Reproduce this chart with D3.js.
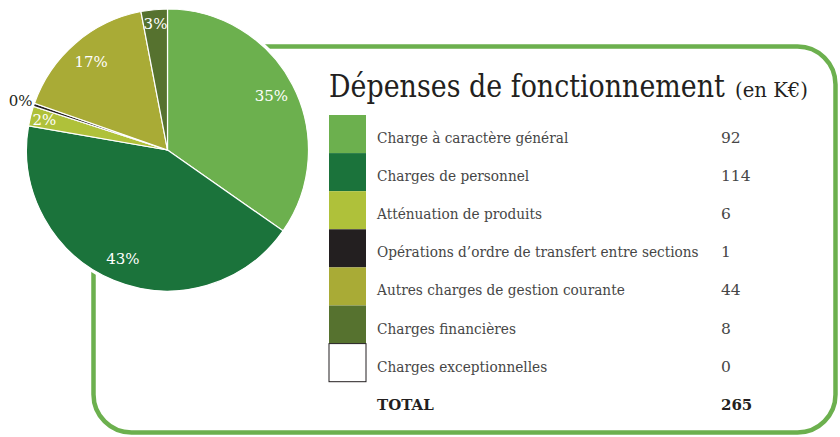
<!DOCTYPE html>
<html>
<head>
<meta charset="utf-8">
<script src="https://cdn.jsdelivr.net/npm/d3@7"></script>
<style>
  body { margin: 0; background: #fff; }
  text { font-family: "DejaVu Serif", serif; }
</style>
</head>
<body>
<div id="chart"></div>
<script>
// data
const categories = [
    "Charge à caractère général",
    "Charges de personnel",
    "Atténuation de produits",
    "Opérations d’ordre de transfert entre sections",
    "Autres charges de gestion courante",
    "Charges financières",
    "Charges exceptionnelles"
];
const values = [92, 114, 6, 1, 44, 8, 0];
const colors = ["#6cb04e", "#1b733b", "#afc13a", "#231f20", "#a9ab36", "#56722f", "#ffffff"];
const titleMain = "Dépenses de fonctionnement";
const titleUnit = "(en K€)";
const totalLabel = "TOTAL";

const W = 840, H = 437;
const svg = d3.select("#chart").append("svg")
    .attr("width", W)
    .attr("height", H);

const green = "#6cb04e";
const total = d3.sum(values);

// squeeze a text horizontally so it fits a given width (DejaVu is wider than the original font)
function fitWidth(sel, x, y, width) {
    const len = sel.node().getComputedTextLength();
    sel.attr("x", 0).attr("y", 0)
        .attr("transform", `translate(${x},${y}) scale(${Math.min(1, width / len)},1)`);
}

// rounded frame behind the pie
svg.append("rect")
    .attr("x", 93.5).attr("y", 46.5)
    .attr("width", 742).attr("height", 386)
    .attr("rx", 38).attr("ry", 38)
    .attr("fill", "none")
    .attr("stroke", green)
    .attr("stroke-width", 4.5);

// pie
const cx = 167.5, cy = 150, R = 141;
const g = svg.append("g").attr("transform", `translate(${cx},${cy})`);

g.append("circle").attr("r", R + 3).attr("fill", "#fff");

const pie = d3.pie().sort(null).value(d => d.value);
const arcs = pie(categories.map((c, i) => ({ name: c, value: values[i], color: colors[i] })));
const arc = d3.arc().innerRadius(0).outerRadius(R);

g.selectAll("path")
    .data(arcs.filter(d => d.data.value > 0))
    .join("path")
    .attr("d", arc)
    .attr("fill", d => d.data.color)
    .attr("stroke", "#fff")
    .attr("stroke-width", 1.2);

// percentage labels
g.selectAll("text.pct")
    .data(arcs.filter(d => d.data.value > 0))
    .join("text")
    .attr("class", "pct")
    .each(function (d) {
        const p = d.data.value / total;
        let r = p > 0.05 ? R * 0.83 : R * 0.9;
        if (p < 0.01) r = R * 1.1;
        const a = (d.startAngle + d.endAngle) / 2;
        d3.select(this)
            .attr("x", r * Math.sin(a))
            .attr("y", -r * Math.cos(a))
            .attr("fill", p < 0.01 ? "#231f20" : "#fff");
    })
    .attr("text-anchor", "middle")
    .attr("dy", "0.36em")
    .attr("font-size", 15)
    .text(d => Math.round(d.data.value / total * 100) + "%");

// title
const t1 = svg.append("text")
    .attr("fill", "#231f20")
    .attr("font-size", 31)
    .text(titleMain);
fitWidth(t1, 329, 97, 396);
const t2 = svg.append("text")
    .attr("fill", "#231f20")
    .attr("font-size", 20)
    .text(titleUnit);
fitWidth(t2, 735, 97, 73);

// legend table
const rowY = d3.scaleBand()
    .domain(d3.range(categories.length))
    .range([115, 115 + 38.1 * categories.length]);

const rows = svg.append("g").selectAll("g")
    .data(categories)
    .join("g")
    .attr("transform", (d, i) => `translate(0,${rowY(i)})`);

rows.append("rect")
    .attr("x", 329).attr("y", 0)
    .attr("width", 37).attr("height", rowY.bandwidth())
    .attr("fill", (d, i) => colors[i])
    .attr("stroke", (d, i) => colors[i] === "#ffffff" ? "#231f20" : "none")
    .attr("stroke-width", 1);

const labels = rows.append("text")
    .attr("font-size", 15.5)
    .attr("fill", "#464646")
    .text(d => d);

// same squeeze for every label, set by the longest one
const longest = d3.max(labels.nodes(), n => n.getComputedTextLength());
const ratio = 322 / longest;
labels.attr("transform", `translate(377,28) scale(${ratio},1)`);

rows.append("text")
    .attr("x", 721).attr("y", 28)
    .attr("font-size", 15.5)
    .attr("fill", "#464646")
    .text((d, i) => values[i]);

svg.append("text")
    .attr("x", 377).attr("y", 410)
    .attr("font-size", 15).attr("font-weight", "bold")
    .attr("fill", "#231f20")
    .text(totalLabel);

svg.append("text")
    .attr("x", 721).attr("y", 410)
    .attr("font-size", 15).attr("font-weight", "bold")
    .attr("fill", "#231f20")
    .text(total);
</script>
</body>
</html>
